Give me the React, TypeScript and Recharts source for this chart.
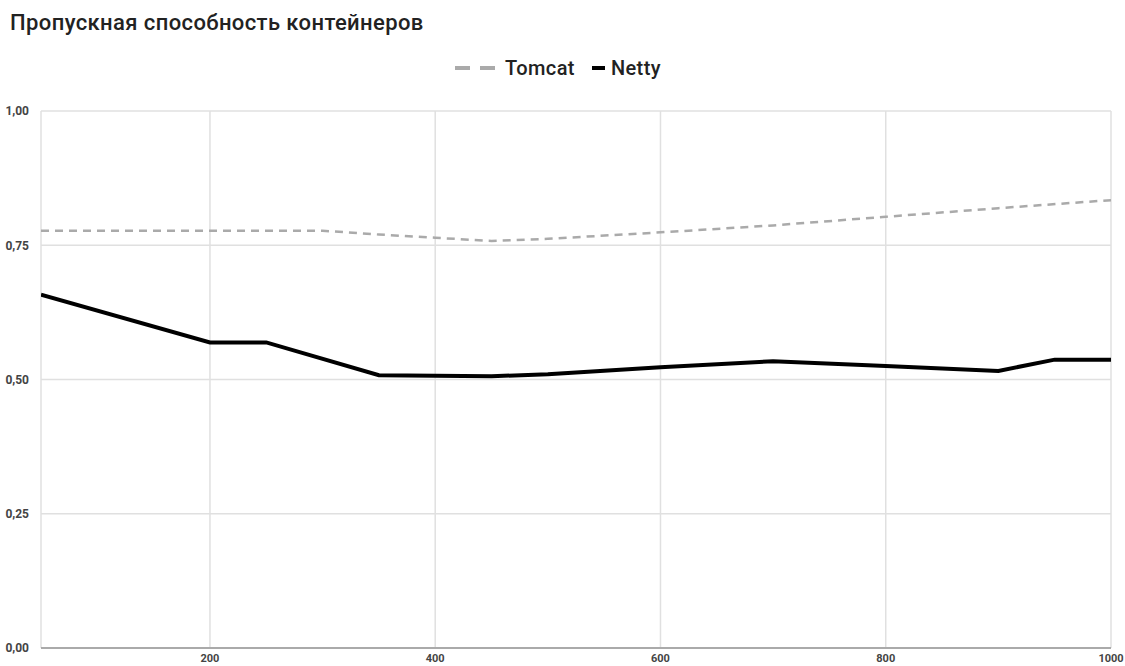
import { LineChart, Line, XAxis, YAxis, CartesianGrid } from 'recharts';

const TITLE = 'Пропускная способность контейнеров';

// throughput, x = connections
const tomcatX = [50, 200, 250, 300, 350, 400, 450, 500, 600, 700, 800, 900, 1000];
const tomcatY = [0.777, 0.777, 0.777, 0.777, 0.770, 0.764, 0.758, 0.762, 0.774, 0.787, 0.803, 0.819, 0.834];

const nettyX = [50, 200, 250, 350, 450, 500, 600, 700, 800, 900, 950, 1000];
const nettyY = [0.658, 0.569, 0.569, 0.508, 0.506, 0.510, 0.523, 0.534, 0.525, 0.516, 0.537, 0.537];

const xTicks = [200, 400, 600, 800, 1000];
const yTicks = [0, 0.25, 0.5, 0.75, 1];

const tomcat = tomcatX.map((x, i) => ({ x, v: tomcatY[i] }));
const netty = nettyX.map((x, i) => ({ x, v: nettyY[i] }));

const FONT = 'Roboto, "Liberation Sans", Arial, sans-serif';
const yTickStyle = { fontSize: 12, fill: '#444', fontWeight: 700, fontFamily: FONT };
const xTickStyle = { fontSize: 11, fill: '#444', fontWeight: 700, fontFamily: FONT };

export default function App() {
  return (
    <div style={{ position: 'absolute', left: 0, top: 0, width: 1125, height: 666, background: '#fff', fontFamily: FONT }}>
      <div style={{ position: 'absolute', left: 10, top: 10, fontSize: 22, fontWeight: 500, color: '#222', whiteSpace: 'nowrap', letterSpacing: 0.4 }}>
        {TITLE}
      </div>

      {/* legend */}
      <div style={{ position: 'absolute', left: 455, top: 56, display: 'flex', alignItems: 'center', fontSize: 20, fontWeight: 500, color: '#222', letterSpacing: 0.4 }}>
        <svg width={40} height={10} style={{ marginRight: 10 }}>
          <line x1={0} y1={5} x2={40} y2={5} stroke="#aaa" strokeWidth={4} strokeDasharray="15 10" />
        </svg>
        <span style={{ marginRight: 17 }}>Tomcat</span>
        <svg width={13} height={10} style={{ marginRight: 6 }}>
          <line x1={0} y1={5} x2={13} y2={5} stroke="#000" strokeWidth={4} />
        </svg>
        <span>Netty</span>
      </div>

      <LineChart width={1125} height={666} margin={{ top: 111, right: 14, bottom: 0, left: 0 }}>
        <CartesianGrid stroke="#e0e0e0" strokeWidth={1.5} />
        <XAxis
          dataKey="x"
          type="number"
          domain={[50, 1000]}
          ticks={xTicks}
          allowDataOverflow
          height={18}
          tickLine={false}
          axisLine={{ stroke: '#aaa', strokeWidth: 2 }}
          tick={xTickStyle}
          tickMargin={0}
        />
        <YAxis
          type="number"
          domain={[0, 1]}
          ticks={yTicks}
          width={41}
          tickLine={false}
          axisLine={false}
          tick={yTickStyle}
          tickMargin={6}
          tickFormatter={(v: number) => v.toFixed(2).replace('.', ',')}
        />
        <Line data={tomcat} dataKey="v" type="linear" stroke="#aaa" strokeWidth={2.5} strokeDasharray="8 6" dot={false} isAnimationActive={false} />
        <Line data={netty} dataKey="v" type="linear" stroke="#000" strokeWidth={4} dot={false} isAnimationActive={false} />
      </LineChart>
    </div>
  );
}
